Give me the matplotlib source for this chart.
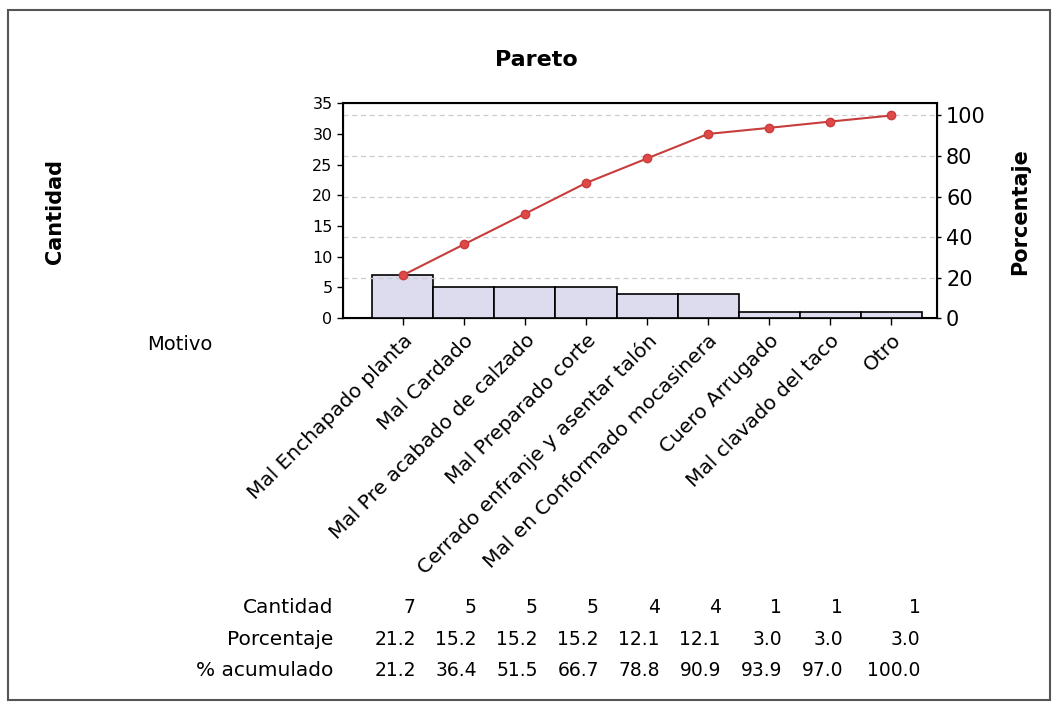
import numpy as np
import matplotlib
matplotlib.use("Agg")
import matplotlib.pyplot as plt
from matplotlib.patches import Rectangle

motivos = ["Mal Enchapado planta", "Mal Cardado", "Mal Pre acabado de calzado",
           "Mal Preparado corte", "Cerrado enfranje y asentar talón",
           "Mal en Conformado mocasinera", "Cuero Arrugado", "Mal clavado del taco", "Otro"]
cantidad = [7, 5, 5, 5, 4, 4, 1, 1, 1]
porcentaje = [21.2, 15.2, 15.2, 15.2, 12.1, 12.1, 3.0, 3.0, 3.0]
acumulado = [21.2, 36.4, 51.5, 66.7, 78.8, 90.9, 93.9, 97.0, 100.0]

plt.rcParams['font.family'] = ['DejaVu Sans']

fig = plt.figure(figsize=(10.57, 7.04), dpi=100)
fig.patches.append(Rectangle((0.008, 0.006), 0.985, 0.98, transform=fig.transFigure,
                             fill=False, edgecolor="#555555", linewidth=1.5))

ax = fig.add_axes([0.3245, 0.548, 0.562, 0.3054])
x = np.arange(len(motivos))
total = sum(cantidad)

ax.bar(x, cantidad, width=1.0, color="#dcdcee", edgecolor="black", linewidth=1.2, zorder=3)
ax.set_xlim(-0.98, 8.75)
ax.set_ylim(0, 35)
ax.set_yticks(np.arange(0, 36, 5))
ax.tick_params(axis='y', labelsize=11.5, length=4, width=1)
ax.set_xticks(x)
ax.set_xticklabels(motivos, rotation=45, ha='right', rotation_mode='anchor', fontsize=14.5)
ax.tick_params(axis='x', length=5, width=1, pad=4)
for s in ax.spines.values():
    s.set_linewidth(1.5)

ax2 = ax.twinx()
ax2.set_ylim(0, 35 / total * 100)
ax2.set_yticks([0, 20, 40, 60, 80, 100])
ax2.tick_params(axis='y', labelsize=15, length=3, width=1)
for t in [20, 40, 60, 80, 100]:
    ax2.axhline(t, color="#cccccc", linestyle=(0, (4, 3)), linewidth=0.9, zorder=0)
ax2.plot(x, acumulado, color="#c83c3c", linewidth=1.5, marker='o', markersize=6,
         markerfacecolor="#e04848", markeredgecolor="#c83c3c", zorder=5)

fig.text(0.507, 0.915, "Pareto", ha='center', va='center', fontsize=16, fontweight='bold')
fig.text(0.052, 0.70, "Cantidad", rotation=90, ha='center', va='center', fontsize=15, fontweight='bold')
fig.text(0.965, 0.70, "Porcentaje", rotation=90, ha='center', va='center', fontsize=15, fontweight='bold')
fig.text(0.17, 0.51, "Motivo", ha='center', va='center', fontsize=14)

# table below the chart
col_x = [i + 0.21 for i in range(len(motivos) - 1)] + [len(motivos) - 1 + 0.48]
trans = matplotlib.transforms.blended_transform_factory(ax.transData, fig.transFigure)
rows = [("Cantidad", [str(v) for v in cantidad], 0.137),
        ("Porcentaje", [f"{v:.1f}" for v in porcentaje], 0.091),
        ("% acumulado", [f"{v:.1f}" for v in acumulado], 0.048)]
for label, vals, yy in rows:
    fig.text(0.315, yy, label, ha='right', va='center', fontsize=14.5)
    for cx, v in zip(col_x, vals):
        ax.text(cx, yy, v, transform=trans, ha='right', va='center', fontsize=13.5, clip_on=False)

fig.savefig("out.png", dpi=100)
